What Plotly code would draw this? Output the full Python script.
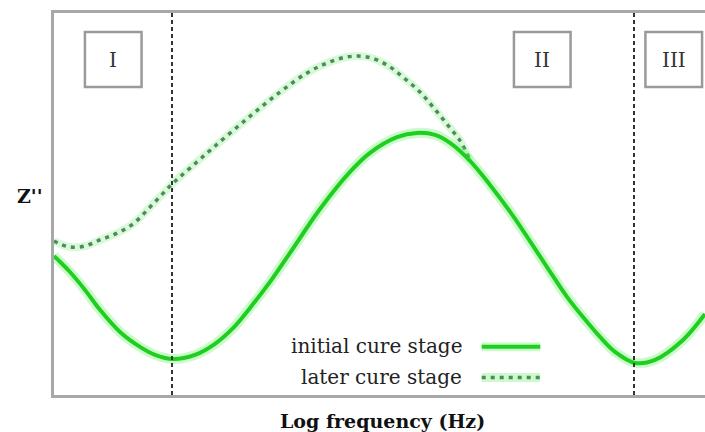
import plotly.graph_objects as go

# Log-frequency positions (normalised units) and Z'' values
initial_x = [0.00, 0.16, 0.31, 0.46, 0.66, 0.86, 1.01, 1.19, 1.41, 1.61, 1.79, 1.96,
             2.16, 2.36, 2.66, 2.96, 3.16, 3.43, 3.63, 3.81, 3.96, 4.16, 4.36, 4.59,
             4.93, 5.13, 5.29, 5.46, 5.61, 5.81, 6.01, 6.29, 6.51]
initial_z = [3.64, 3.22, 2.75, 2.23, 1.65, 1.26, 1.05, 0.94, 1.05, 1.34, 1.75, 2.28,
             2.96, 3.72, 4.87, 5.84, 6.34, 6.75, 6.86, 6.81, 6.60, 6.13, 5.50, 4.69,
             3.35, 2.57, 2.04, 1.52, 1.13, 0.84, 0.92, 1.44, 2.12]

later_x = [0.00, 0.08, 0.18, 0.31, 0.46, 0.61, 0.79, 0.99, 1.18, 1.36, 1.59, 1.93,
           2.26, 2.53, 2.73, 2.93, 3.13, 3.33, 3.49, 3.66, 3.79, 3.93, 4.06, 4.16]
later_z = [4.03, 3.93, 3.87, 3.90, 4.06, 4.21, 4.48, 5.00, 5.52, 5.94, 6.47, 7.23,
           7.93, 8.43, 8.69, 8.85, 8.85, 8.64, 8.32, 7.93, 7.54, 7.09, 6.66, 6.15]

region_bounds = [1.18, 5.80]
region_labels = ["I", "II", "III"]
region_label_x = [0.091, 0.750, 0.952]   # paper coords of label boxes
series_names = ["initial cure stage", "later cure stage"]
x_title = "Log frequency (Hz)"
y_title = "Z''"

FONT = "DejaVu Serif"
GREEN = "#1fcf1f"
GLOW = "rgba(110,240,110,0.35)"
DOT = "#4f8a5c"

fig = go.Figure()

# later cure stage (dotted) with glow
fig.add_trace(go.Scatter(x=later_x, y=later_z, mode="lines", line=dict(color="rgba(130,240,130,0.3)", width=8, shape="spline"),
                         hoverinfo="skip", showlegend=False))
fig.add_trace(go.Scatter(x=later_x, y=later_z, mode="lines", name=series_names[1],
                         line=dict(color=DOT, width=3.5, dash="4px,5px", shape="spline"), showlegend=False))
# initial cure stage (solid) with glow
fig.add_trace(go.Scatter(x=initial_x, y=initial_z, mode="lines", line=dict(color=GLOW, width=10, shape="spline"),
                         hoverinfo="skip", showlegend=False))
fig.add_trace(go.Scatter(x=initial_x, y=initial_z, mode="lines", name=series_names[0],
                         line=dict(color=GREEN, width=4, shape="spline"), showlegend=False))

shapes = []
for b in region_bounds:
    shapes.append(dict(type="line", xref="x", yref="paper", x0=b, x1=b, y0=0, y1=1,
                       line=dict(color="#333333", width=2, dash="4px,3px"), layer="above"))

annotations = []
for lbl, cx in zip(region_labels, region_label_x):
    shapes.append(dict(type="rect", xref="paper", yref="paper", x0=cx - 0.0435, x1=cx + 0.0435,
                       y0=0.806, y1=0.950, line=dict(color="#9a9a9a", width=2.5), fillcolor="white"))
    annotations.append(dict(xref="paper", yref="paper", x=cx, y=0.878, text=lbl, showarrow=False,
                            font=dict(family=FONT, size=20, color="#333333"), xanchor="center", yanchor="middle"))

# custom legend: text then line sample
leg_y = [0.128, 0.048]
for name, yy, dash, col in zip(series_names, leg_y, ["solid", "4px,5px"], [GREEN, DOT]):
    annotations.append(dict(xref="paper", yref="paper", x=0.630, y=yy, text=name, showarrow=False,
                            font=dict(family=FONT, size=20, color="#222222"), xanchor="right", yanchor="middle"))
    shapes.append(dict(type="line", xref="paper", yref="paper", x0=0.657, x1=0.747, y0=yy - 0.002, y1=yy - 0.002,
                       line=dict(color=GLOW, width=9)))
    shapes.append(dict(type="line", xref="paper", yref="paper", x0=0.657, x1=0.747, y0=yy - 0.002, y1=yy - 0.002,
                       line=dict(color=col, width=4 if dash == "solid" else 3.5, dash=dash)))

annotations.append(dict(xref="paper", yref="paper", x=0.505, y=-0.068, text="<b>" + x_title + "</b>",
                        showarrow=False, font=dict(family=FONT, size=19, color="#111111"),
                        xanchor="center", yanchor="middle"))
annotations.append(dict(xref="paper", yref="paper", x=-0.037, y=0.521, text="<b>" + y_title + "</b>",
                        showarrow=False, font=dict(family=FONT, size=19, color="#111111"),
                        xanchor="center", yanchor="middle"))

fig.update_layout(
    width=705, height=432,
    margin=dict(l=54, r=0, t=13, b=37),
    paper_bgcolor="white", plot_bgcolor="white",
    shapes=shapes, annotations=annotations,
    xaxis=dict(range=[0, 6.51], showgrid=False, zeroline=False, showticklabels=False, ticks="",
               showline=True, linecolor="#a8a8a8", linewidth=3, mirror=True),
    yaxis=dict(range=[0, 10], showgrid=False, zeroline=False, showticklabels=False, ticks="",
               showline=True, linecolor="#a8a8a8", linewidth=3),
)

fig.write_html("out.html")
